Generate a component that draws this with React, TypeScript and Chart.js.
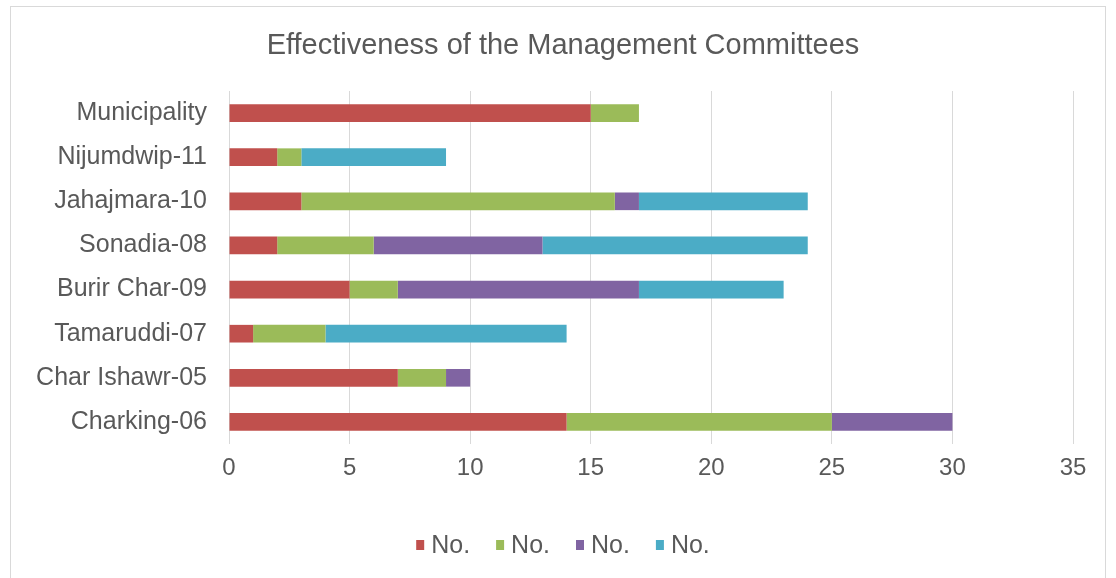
import { useEffect, useRef } from "react";
import { Chart, registerables } from "chart.js";

Chart.register(...registerables);

const categories = [
  "Municipality",
  "Nijumdwip-11",
  "Jahajmara-10",
  "Sonadia-08",
  "Burir Char-09",
  "Tamaruddi-07",
  "Char Ishawr-05",
  "Charking-06",
];
const redValues = [15, 2, 3, 2, 5, 1, 7, 14];
const greenValues = [2, 1, 13, 4, 2, 3, 2, 11];
const purpleValues = [0, 0, 1, 7, 10, 0, 1, 5];
const blueValues = [0, 6, 7, 11, 6, 10, 0, 0];
const seriesLabels = ["No.", "No.", "No.", "No."];
const seriesColors = ["#C0504D", "#9BBB59", "#8064A2", "#4BACC6"];
const xMin = 0;
const xMax = 35;
const xStep = 5;
const titleText = "Effectiveness of the Management Committees";

const FONT = '"Liberation Sans", Arial, sans-serif';
const TEXT_COLOR = "#595959";
const CENTER_X = 563;

const frameTitleLegend = {
  id: "frameTitleLegend",
  beforeDraw(chart: any) {
    const ctx = chart.ctx;
    ctx.save();
    ctx.fillStyle = "#ffffff";
    ctx.fillRect(0, 0, chart.width, chart.height);
    ctx.strokeStyle = "#d9d9d9";
    ctx.lineWidth = 1;
    ctx.strokeRect(10.5, 6.5, chart.width - 21, chart.height + 20);
    ctx.restore();
  },
  afterDraw(chart: any) {
    const ctx = chart.ctx;
    ctx.save();
    // title
    ctx.font = `29px ${FONT}`;
    ctx.fillStyle = TEXT_COLOR;
    ctx.textAlign = "center";
    ctx.textBaseline = "middle";
    ctx.fillText(titleText, CENTER_X, 46);

    // legend
    ctx.font = `25px ${FONT}`;
    const box = 8;
    const gap = 7;
    const spacing = 26;
    const items = chart.data.datasets.map((ds: any) => ({
      text: ds.label,
      color: ds.backgroundColor,
      w: ctx.measureText(ds.label).width,
    }));
    const total =
      items.reduce((s: number, it: any) => s + box + gap + it.w, 0) +
      spacing * (items.length - 1);
    let x = CENTER_X - total / 2;
    const y = 546;
    ctx.textBaseline = "middle";
    ctx.textAlign = "left";
    for (const it of items) {
      ctx.fillStyle = it.color;
      ctx.fillRect(x, y - 6, box, 10);
      ctx.fillStyle = TEXT_COLOR;
      ctx.fillText(it.text, x + box + gap, y);
      x += box + gap + it.w + spacing;
    }
    ctx.restore();
  },
};

export default function App() {
  const canvasRef = useRef<HTMLCanvasElement | null>(null);

  useEffect(() => {
    if (!canvasRef.current) return;
    const values = [redValues, greenValues, purpleValues, blueValues];
    const chart = new Chart(canvasRef.current, {
      type: "bar",
      data: {
        labels: categories,
        datasets: values.map((v, i) => ({
          label: seriesLabels[i],
          data: v,
          backgroundColor: seriesColors[i],
          borderWidth: 0,
          barPercentage: 0.4,
          categoryPercentage: 1,
        })),
      },
      options: {
        indexAxis: "y",
        responsive: false,
        animation: false,
        layout: { padding: { left: 0, right: 43, top: 91, bottom: 100 } },
        scales: {
          x: {
            stacked: true,
            min: xMin,
            max: xMax,
            ticks: {
              stepSize: xStep,
              color: TEXT_COLOR,
              font: { family: FONT, size: 24 },
              padding: 10,
            },
            grid: { color: "#d9d9d9", drawTicks: false },
            border: { display: false },
            afterFit: (s: any) => {
              s.height = 34;
            },
          },
          y: {
            stacked: true,
            ticks: {
              color: TEXT_COLOR,
              font: { family: FONT, size: 25 },
              padding: 22,
            },
            grid: { display: false, drawTicks: false },
            border: { display: false },
            afterFit: (s: any) => {
              s.width = 229;
            },
          },
        },
        plugins: {
          legend: { display: false },
          tooltip: { enabled: false },
          title: { display: false },
        },
      },
      plugins: [frameTitleLegend],
    });
    return () => chart.destroy();
  }, []);

  return (
    <div style={{ position: "absolute", left: 0, top: 0, width: 1116, height: 578 }}>
      <canvas ref={canvasRef} width={1116} height={578} style={{ display: "block" }} />
    </div>
  );
}
